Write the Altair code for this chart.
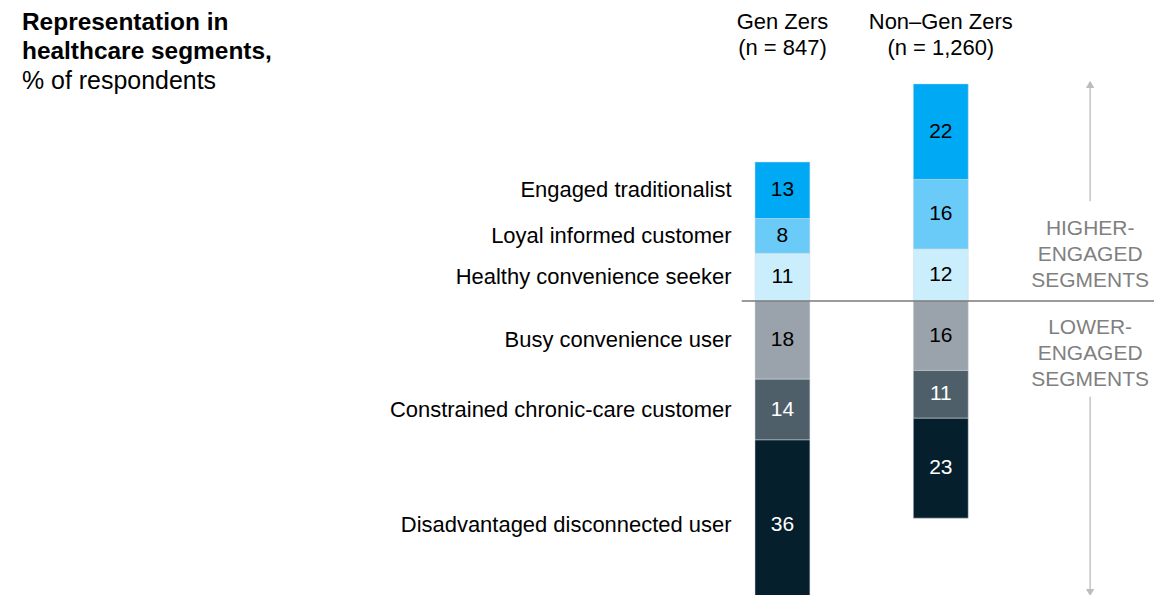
import altair as alt
import pandas as pd

# ---- data -------------------------------------------------------------
groups = ["Gen Zers", "Non–Gen Zers"]
group_n = ["(n = 847)", "(n = 1,260)"]
segments = [
    "Engaged traditionalist",
    "Loyal informed customer",
    "Healthy convenience seeker",
    "Busy convenience user",
    "Constrained chronic-care customer",
    "Disadvantaged disconnected user",
]
higher_segments = segments[:3]
lower_segments = segments[3:]
gen_z_values = [13, 8, 11, 18, 14, 36]
non_gen_z_values = [22, 16, 12, 16, 11, 23]

title_lines = ["Representation in", "healthcare segments,", "% of respondents"]
higher_note = ["HIGHER-", "ENGAGED", "SEGMENTS"]
lower_note = ["LOWER-", "ENGAGED", "SEGMENTS"]

# ---- styles -----------------------------------------------------------
bar_colors = ["#00A9F4", "#6ACBF8", "#CBEEFC", "#9AA3AB", "#4F5F6A", "#061F2D"]
text_colors = ["#000000", "#000000", "#000000", "#000000", "#FFFFFF", "#FFFFFF"]
FONT = "Liberation Sans"

# ---- build table ------------------------------------------------------
rows = []
for gi, (g, vals) in enumerate(zip(groups, [gen_z_values, non_gen_z_values])):
    lookup = dict(zip(segments, vals))
    start = 0
    for s in reversed(higher_segments):
        v = lookup[s]
        rows.append(dict(group=g, pos=gi + 1, segment=s, value=v, y0=start, y1=start + v))
        start += v
    start = 0
    for s in lower_segments:
        v = lookup[s]
        rows.append(dict(group=g, pos=gi + 1, segment=s, value=v, y0=-start, y1=-(start + v)))
        start += v
df = pd.DataFrame(rows)
df["mid"] = (df["y0"] + df["y1"]) / 2
# the bottom Gen Z segment is cut by the frame; its labels sit a little lower
df["cut"] = (df["group"] == groups[0]) & (df["segment"] == segments[-1])

hdr = pd.DataFrame({"group": groups, "n": group_n, "pos": [1, 2]})

W, H = 1155, 587
xscale = alt.Scale(domain=[-3.8469, 3.3719], nice=False, zero=False)
yscale = alt.Scale(domain=[-68.276, 66.667], nice=False, zero=False)

base = alt.Chart(df)

bars = base.mark_bar(size=55, stroke="#d3dbe0", strokeWidth=0.5).encode(
    x=alt.X("pos:Q", scale=xscale, axis=None),
    y=alt.Y("y0:Q", scale=yscale, axis=None),
    y2="y1:Q",
    color=alt.Color("segment:N", scale=alt.Scale(domain=segments, range=bar_colors), legend=None),
)


def value_text(data_filter, dy):
    return base.transform_filter(data_filter).mark_text(
        font=FONT, fontSize=21, baseline="middle", align="center", dy=dy
    ).encode(
        x=alt.X("pos:Q", scale=xscale, axis=None),
        y=alt.Y("mid:Q", scale=yscale, axis=None),
        text="value:Q",
        color=alt.Color("segment:N", scale=alt.Scale(domain=segments, range=text_colors), legend=None),
    )


def seg_text(data_filter, dy):
    return base.transform_filter(data_filter).mark_text(
        font=FONT, fontSize=22, baseline="middle", align="right", dx=-51, dy=dy, color="#000000"
    ).encode(
        x=alt.X("pos:Q", scale=xscale, axis=None),
        y=alt.Y("mid:Q", scale=yscale, axis=None),
        text="segment:N",
    )


values_txt = value_text("!datum.cut", 0)
values_cut = value_text("datum.cut", 7)
seg_labels = seg_text(f"datum.group == '{groups[0]}' && !datum.cut", 0)
seg_cut = seg_text("datum.cut", 7)

hbase = alt.Chart(hdr)
hdr1 = hbase.mark_text(font=FONT, fontSize=22, align="center", baseline="alphabetic", color="#000000").encode(
    x=alt.X("pos:Q", scale=xscale, axis=None), y=alt.value(18), text="group:N"
)
hdr2 = hbase.mark_text(font=FONT, fontSize=22, align="center", baseline="alphabetic", color="#000000").encode(
    x=alt.X("pos:Q", scale=xscale, axis=None), y=alt.value(44), text="n:N"
)

divider = alt.Chart(pd.DataFrame({"v": [0]})).mark_rule(color="#7a7a7a", strokeWidth=1.5).encode(
    y=alt.Y("v:Q", scale=yscale, axis=None), x=alt.value(733), x2=alt.value(1146)
)

title_df = pd.DataFrame({"t": title_lines, "yy": [19, 48, 78], "bold": [True, True, False]})
t_bold = alt.Chart(title_df[title_df.bold]).mark_text(
    font=FONT, fontSize=24.5, fontWeight="bold", align="left", baseline="alphabetic", color="#000000"
).encode(x=alt.value(12), y=alt.Y("yy:Q", scale=None), text="t:N")
t_reg = alt.Chart(title_df[~title_df.bold]).mark_text(
    font=FONT, fontSize=25, align="left", baseline="alphabetic", color="#000000"
).encode(x=alt.value(12), y=alt.Y("yy:Q", scale=None), text="t:N")

note_df = pd.DataFrame({"t": higher_note + lower_note, "yy": [223.5, 249.5, 275.5, 323, 349, 375]})
notes = alt.Chart(note_df).mark_text(
    font=FONT, fontSize=21, align="center", baseline="alphabetic", color="#808080"
).encode(x=alt.value(1082), y=alt.Y("yy:Q", scale=None), text="t:N")

arrow_lines = alt.Chart(pd.DataFrame({"a": [72, 386], "b": [190, 582]})).mark_rule(
    color="#c4c4c4", strokeWidth=1.5
).encode(x=alt.value(1082), y=alt.Y("a:Q", scale=None), y2="b:Q")

heads = alt.Chart(pd.DataFrame({"yy": [73, 582], "shape": ["triangle-up", "triangle-down"]})).mark_point(
    filled=True, color="#bcbcbc", opacity=1, size=70
).encode(
    x=alt.value(1082),
    y=alt.Y("yy:Q", scale=None),
    shape=alt.Shape("shape:N", scale=None, legend=None),
)

chart = (
    alt.layer(bars, divider, values_txt, values_cut, seg_labels, seg_cut, hdr1, hdr2, t_bold, t_reg,
              notes, arrow_lines, heads)
    .resolve_scale(color="independent")
    .properties(width=W, height=H, padding={"left": 2, "top": 2, "right": 0, "bottom": 0},
                background="#ffffff")
    .configure_view(stroke=None)
)

chart.save("out.html", embed_options={"renderer": "svg", "actions": False})
